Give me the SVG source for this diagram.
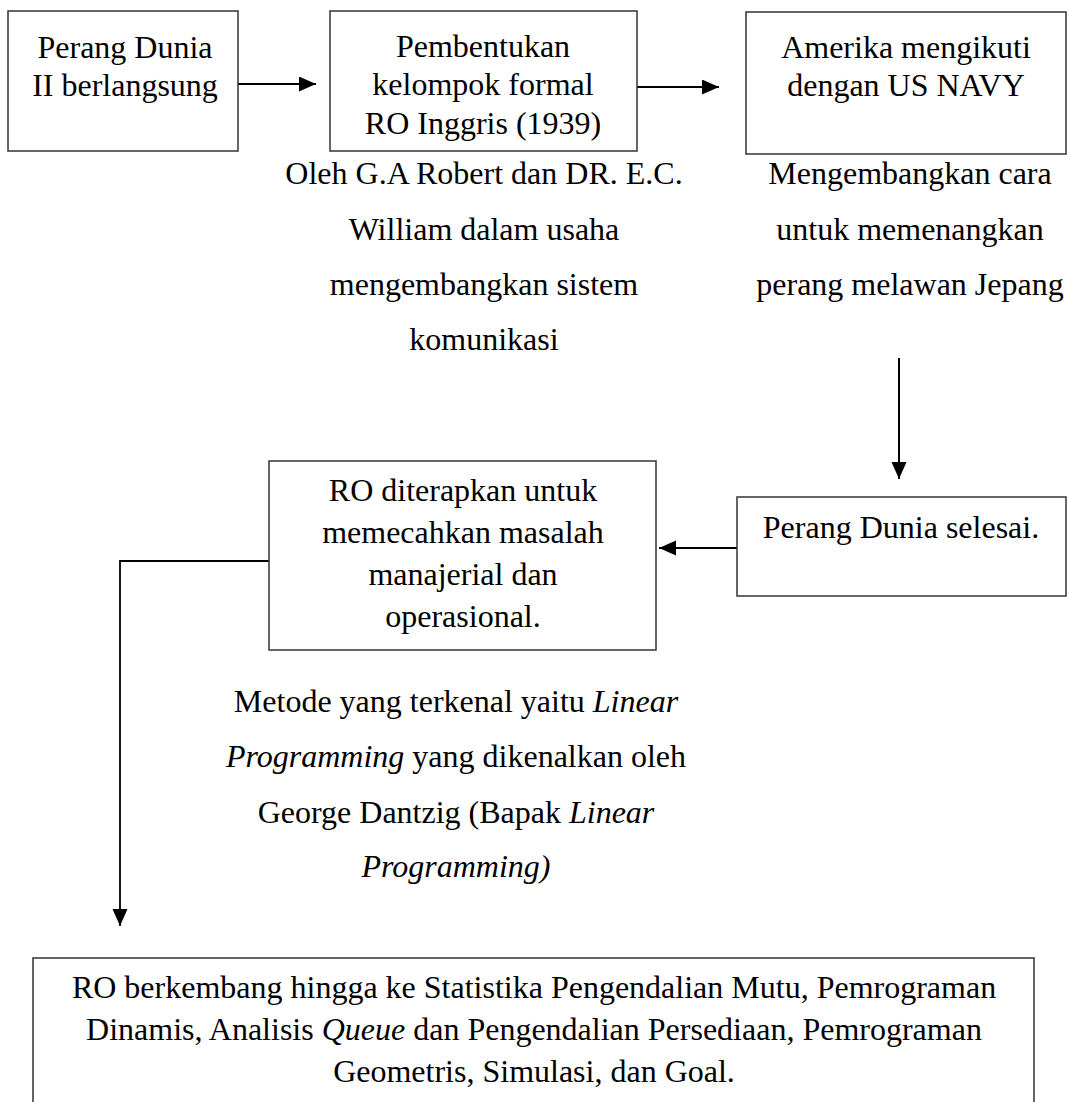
<svg xmlns="http://www.w3.org/2000/svg" width="1070" height="1102" viewBox="0 0 1070 1102">
<style>
text{font-family:"Liberation Serif","Times New Roman",serif;font-size:32px;fill:#000;text-anchor:middle}
.box{fill:#fff;stroke:#333;stroke-width:1.5}
.c{fill:none;stroke:#000;stroke-width:2}
.i{font-style:italic}
</style>
<defs>
<marker id="ah" markerUnits="userSpaceOnUse" markerWidth="18" markerHeight="16" refX="17" refY="7.5" orient="auto">
<path d="M0,0 L17,7.5 L0,15 z" fill="#000"/>
</marker>
</defs>
<rect width="1070" height="1102" fill="#fff"/>
<g id="connectors">
<line class="c" x1="238" y1="84" x2="316" y2="84" marker-end="url(#ah)"/>
<line class="c" x1="637" y1="87" x2="719" y2="87" marker-end="url(#ah)"/>
<line class="c" x1="899" y1="358" x2="899" y2="479" marker-end="url(#ah)"/>
<line class="c" x1="737" y1="548" x2="659" y2="548" marker-end="url(#ah)"/>
<polyline class="c" points="269,561 120,561 120,926" marker-end="url(#ah)" style="stroke-width:1.8"/>
</g>
<g id="n1">
<rect class="box" x="8" y="11" width="230" height="140"/>
<text x="125" y="58">Perang Dunia</text>
<text x="125" y="96">II berlangsung</text>
</g>
<g id="n2">
<rect class="box" x="330" y="11" width="307" height="140"/>
<text x="483" y="57">Pembentukan</text>
<text x="483" y="95">kelompok formal</text>
<text x="483" y="134">RO Inggris (1939)</text>
</g>
<g id="n2note">
<text x="484" y="184">Oleh G.A Robert dan DR. E.C.</text>
<text x="484" y="240">William dalam usaha</text>
<text x="484" y="295">mengembangkan sistem</text>
<text x="484" y="350">komunikasi</text>
</g>
<g id="n3">
<rect class="box" x="746" y="12" width="320" height="142"/>
<text x="906" y="58">Amerika mengikuti</text>
<text x="906" y="96">dengan US NAVY</text>
</g>
<g id="n3note">
<text x="910" y="184">Mengembangkan cara</text>
<text x="910" y="240">untuk memenangkan</text>
<text x="910" y="295">perang melawan Jepang</text>
</g>
<g id="n4">
<rect class="box" x="737" y="497" width="329" height="99"/>
<text x="901" y="538">Perang Dunia selesai.</text>
</g>
<g id="n5">
<rect class="box" x="269" y="461" width="387" height="189"/>
<text x="463" y="501">RO diterapkan untuk</text>
<text x="463" y="543">memecahkan masalah</text>
<text x="463" y="585">manajerial dan</text>
<text x="463" y="627">operasional.</text>
</g>
<g id="n5note">
<text x="456" y="712">Metode yang terkenal yaitu <tspan class="i">Linear</tspan></text>
<text x="456" y="767"><tspan class="i">Programming</tspan> yang dikenalkan oleh</text>
<text x="456" y="823">George Dantzig (Bapak <tspan class="i">Linear</tspan></text>
<text x="456" y="877" class="i">Programming)</text>
</g>
<g id="n6">
<rect class="box" x="33" y="958" width="1001" height="200"/>
<text x="534" y="998">RO berkembang hingga ke Statistika Pengendalian Mutu, Pemrograman</text>
<text x="534" y="1040">Dinamis, Analisis <tspan class="i">Queue</tspan> dan Pengendalian Persediaan, Pemrograman</text>
<text x="534" y="1082">Geometris, Simulasi, dan Goal.</text>
</g>
</svg>
